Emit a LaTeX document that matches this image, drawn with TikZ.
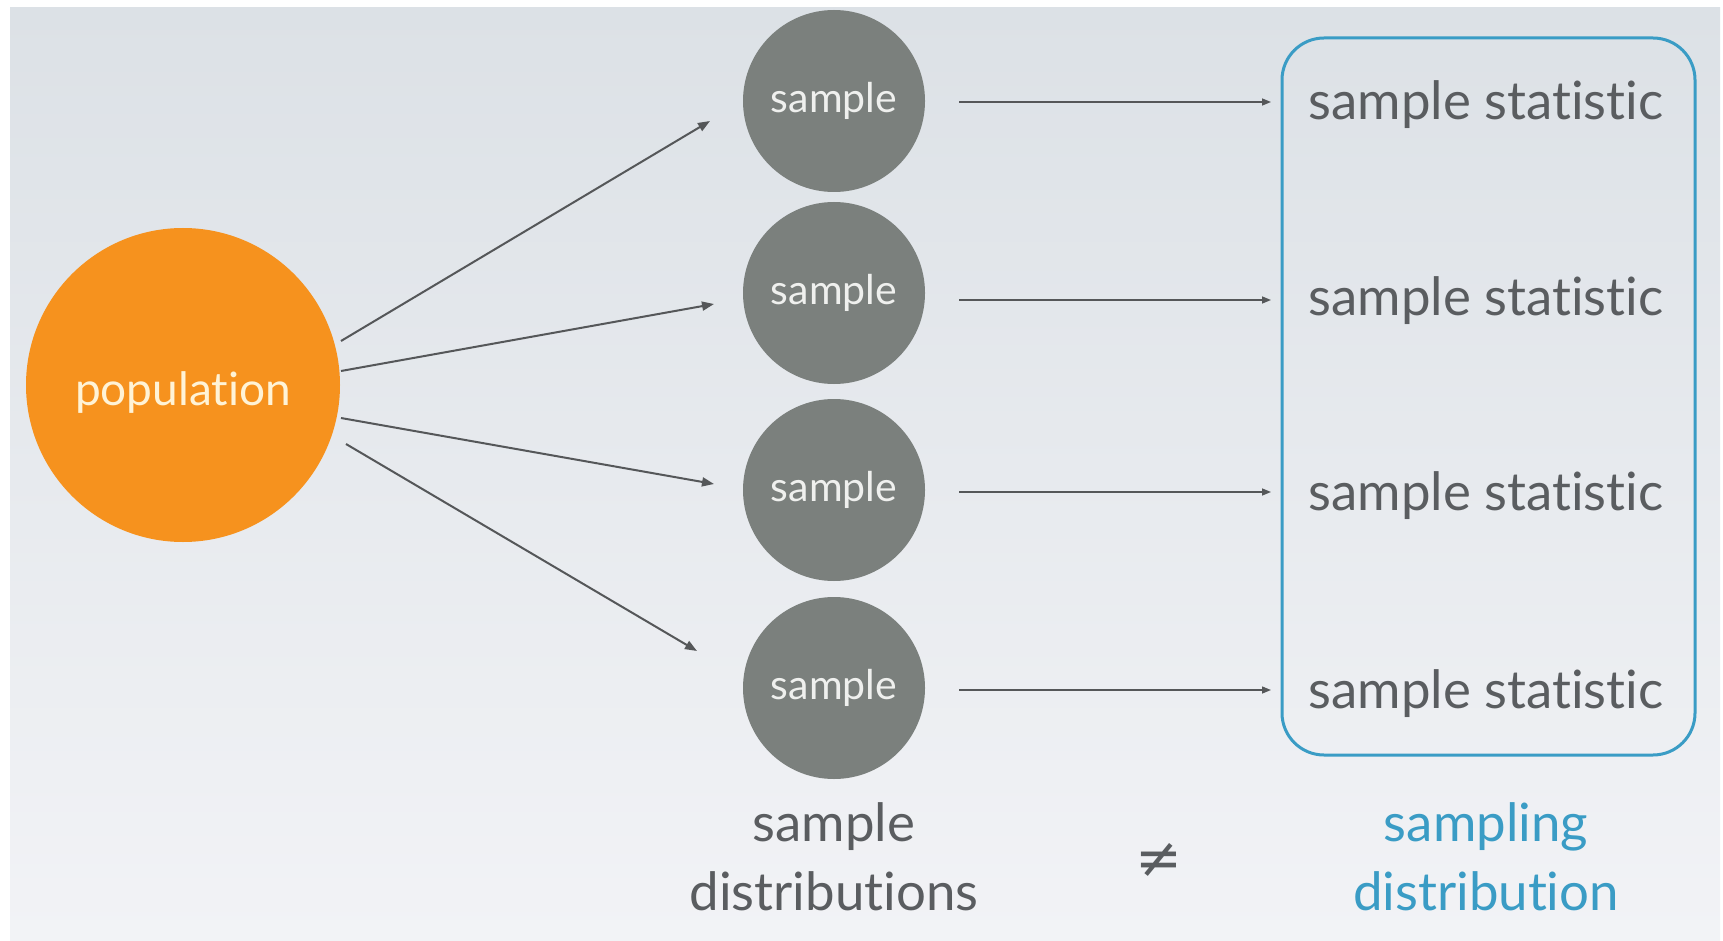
\documentclass[tikz,border=0pt]{standalone}
\usepackage{fontspec}
\setmainfont{Lato}[Ligatures=NoCommon]
\newfontfamily\dejavu{DejaVu Sans}
\usetikzlibrary{arrows.meta}
\definecolor{bgtop}{HTML}{DCE1E6}
\definecolor{bgbot}{HTML}{F2F3F6}
\definecolor{popor}{HTML}{F6921E}
\definecolor{popt}{HTML}{FFF3D6}
\definecolor{smpgray}{HTML}{7B807D}
\definecolor{smpt}{HTML}{EFF0EE}
\definecolor{txtgray}{HTML}{5A5D60}
\definecolor{arrgray}{HTML}{555759}
\definecolor{boxblue}{HTML}{3A9CC5}
\tikzset{
  popnode/.style={circle, fill=popor, draw=none, minimum size=157pt, inner sep=0pt},
  smpnode/.style={circle, fill=smpgray, draw=none, minimum size=91pt, inner sep=0pt,
    text=smpt, font=\fontsize{20.5}{20.5}\selectfont},
  stattext/.style={anchor=base, text=txtgray, inner sep=0pt, font=\fontsize{26.4}{26.4}\selectfont},
  lbltext/.style={anchor=base, text=txtgray, inner sep=0pt, font=\fontsize{26.4}{26.4}\selectfont},
  bluetext/.style={anchor=base, text=boxblue, inner sep=0pt, font=\fontsize{26.4}{26.4}\selectfont},
  darrow/.style={draw=arrgray, line width=1pt, -{Triangle[length=6pt,width=4.5pt]}},
  harrow/.style={draw=arrgray, line width=0.7pt, -{Triangle[length=4.5pt,width=3.5pt]}},
  statbox/.style={draw=boxblue, line width=1.5pt, rounded corners=21pt}
}
\begin{document}
\begin{tikzpicture}[x=0.5pt,y=-0.5pt]
\useasboundingbox (0,0) rectangle (1723,941);
\fill[white] (0,0) rectangle (1723,941);
\shade[top color=bgtop, bottom color=bgbot] (10,8) rectangle (1720,941);

\node[popnode] (pop) at (183,385) {};
\node[text=popt, inner sep=0pt, font=\fontsize{23}{23}\selectfont, anchor=base] (poptxt) at (183,405) {population};

\node[smpnode] (s1) at (834,101) {sample};
\node[smpnode] (s2) at (834,293) {sample};
\node[smpnode] (s3) at (834,490) {sample};
\node[smpnode] (s4) at (834,688) {sample};

% diagonal arrows
\coordinate (p1) at (341,341);
\coordinate (p2) at (341,371);
\coordinate (p3) at (341,418);
\coordinate (p4) at (346,444);
\coordinate (e1) at (710,121);
\coordinate (e2) at (714,304);
\coordinate (e3) at (714,484);
\coordinate (e4) at (697,651);
\draw[darrow] (p1) -- (e1);
\draw[darrow] (p2) -- (e2);
\draw[darrow] (p3) -- (e3);
\draw[darrow] (p4) -- (e4);

% box
\draw[statbox] (1282,38) rectangle (1695,755);

\node[stattext] (st1) at (1486,120) {sample statistic};
\node[stattext] (st2) at (1486,315) {sample statistic};
\node[stattext] (st3) at (1486,510) {sample statistic};
\node[stattext] (st4) at (1486,708) {sample statistic};

\coordinate (a1) at (1271,102);
\coordinate (a2) at (1271,300);
\coordinate (a3) at (1271,492);
\coordinate (a4) at (1271,690);
\draw[harrow] ([xshift=17pt]s1.east |- a1) -- (a1);
\draw[harrow] ([xshift=17pt]s2.east |- a2) -- (a2);
\draw[harrow] ([xshift=17pt]s3.east |- a3) -- (a3);
\draw[harrow] ([xshift=17pt]s4.east |- a4) -- (a4);

% bottom labels
\node[lbltext] (l1) at (834,841) {sample};
\node[lbltext] (l2) at (834,910) {distributions};
\node[bluetext] (b1) at (1486,841) {sampling};
\node[bluetext] (b2) at (1486,910) {distribution};
\node[text=txtgray, inner sep=0pt, font=\dejavu\fontsize{28}{28}\selectfont] (neq) at (1159,860) {≠};
\end{tikzpicture}
\end{document}
